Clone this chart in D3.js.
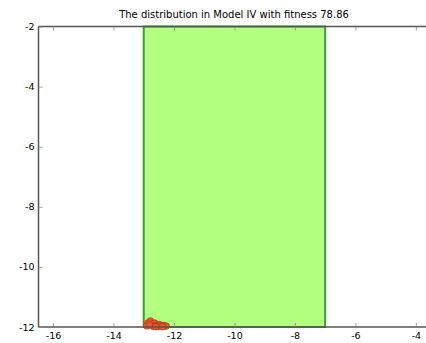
<!DOCTYPE html>
<html><head><meta charset="utf-8">
<script src="https://cdn.jsdelivr.net/npm/d3@7/dist/d3.min.js"></script>
<style>body{margin:0;background:#fff}svg{display:block}</style>
</head><body>
<script>
const title = "The distribution in Model IV with fitness 78.86";
const xTicks = [-16, -14, -12, -10, -8, -6, -4];
const yTicks = [-2, -4, -6, -8, -10, -12];
const region = {x0: -13, x1: -7, y0: -12, y1: -2};
const ptsX = [-12.85, -12.78, -12.72, -12.64, -12.56, -12.48, -12.42, -12.34, -12.26, -12.9, -12.68, -12.52, -12.38, -12.8, -12.6];
const ptsY = [-11.86, -11.8, -11.9, -11.87, -11.94, -11.92, -11.96, -11.95, -11.97, -11.96, -11.98, -11.98, -11.99, -11.93, -11.99];

const W = 426, H = 343;
const svg = d3.select("body").append("svg").attr("width", W).attr("height", H);
const x = d3.scaleLinear().domain([-16.48, -3.5]).range([38.5, 431]);
const y = d3.scaleLinear().domain([-12, -2]).range([327, 26.5]);
const font = "DejaVu Sans";
const fmt = d => String(d);

svg.append("rect").attr("x", x(region.x0)).attr("y", y(region.y1))
  .attr("width", x(region.x1) - x(region.x0)).attr("height", y(region.y0) - y(region.y1))
  .attr("fill", "#b3ff7f").attr("stroke", "#3c9c3c").attr("stroke-width", 2);

svg.selectAll("circle.p").data(ptsX.map((v, i) => [v, ptsY[i]])).enter().append("circle")
  .attr("cx", d => x(d[0])).attr("cy", d => y(d[1])).attr("r", 3.3)
  .attr("fill", "#e8572c").attr("stroke", "#b33a16").attr("stroke-width", 0.8);

// frame
const fr = svg.append("g").attr("fill", "none").attr("stroke", "#555").attr("stroke-width", 1.5);
fr.append("line").attr("x1", x.range()[0]).attr("x2", x.range()[0]).attr("y1", y(-2)).attr("y2", y(-12));
fr.append("line").attr("x1", x.range()[0]).attr("x2", W + 10).attr("y1", y(-2)).attr("y2", y(-2));
fr.append("line").attr("x1", x.range()[0]).attr("x2", W + 10).attr("y1", y(-12)).attr("y2", y(-12));

const xb = d3.axisBottom(x).tickValues(xTicks).tickSize(-4).tickPadding(5).tickFormat(fmt);
const gx = svg.append("g").attr("transform", `translate(0,${y(-12)})`).call(xb);
const xt = d3.axisTop(x).tickValues(xTicks).tickSize(-4).tickFormat("");
const gxt = svg.append("g").attr("transform", `translate(0,${y(-2)})`).call(xt);
const yl = d3.axisLeft(y).tickValues(yTicks).tickSize(-4).tickPadding(7).tickFormat(fmt);
const gy = svg.append("g").attr("transform", `translate(${x.range()[0]},0)`).call(yl);
[gx, gxt, gy].forEach(g => {
  g.select(".domain").remove();
  g.selectAll(".tick line").attr("stroke", "#888").attr("stroke-width", 0.8);
  g.selectAll("text").attr("font-family", font).attr("font-size", 9.5).attr("fill", "#000");
});
gy.selectAll("text").attr("dx", 3);

svg.append("text").attr("x", 234).attr("y", 18).attr("text-anchor", "middle")
  .attr("font-family", font).attr("font-size", 10).attr("fill", "#000").text(title);
</script>
</body></html>
